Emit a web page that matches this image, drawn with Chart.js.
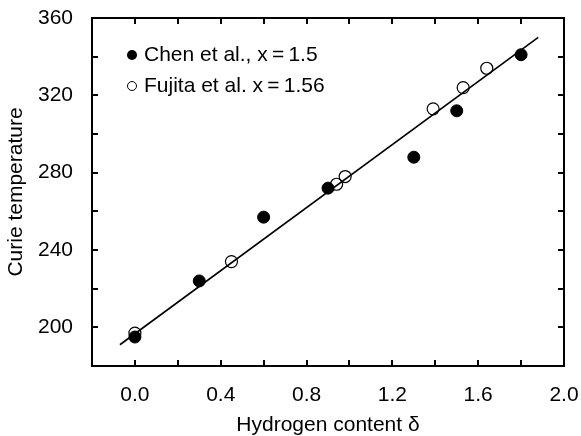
<!DOCTYPE html>
<html>
<head>
<meta charset="utf-8">
<script src="https://cdn.jsdelivr.net/npm/chart.js@4"></script>
<style>
  body { margin: 0; background: #fff; }
</style>
</head>
<body>
<canvas id="curie" width="581" height="436"></canvas>
<script>
// Chen et al., x = 1.5 (filled)
const chenDelta = [0.0, 0.3, 0.6, 0.9, 1.3, 1.5, 1.8];
const chenTc = [195, 224, 257, 272, 288, 312, 341];
// Fujita et al. x = 1.56 (open)
const fujitaDelta = [0.0, 0.45, 0.94, 0.98, 1.39, 1.53, 1.64];
const fujitaTc = [197, 234, 274, 278, 313, 324, 334];
// linear fit line ends
const fitDelta = [-0.07, 1.88];
const fitTc = [191, 350];

const legendLabels = ['Chen et al., x\u2009=\u20091.5', 'Fujita et al. x\u2009=\u20091.56'];

const FONT = "'Liberation Sans', Arial, Helvetica, sans-serif";
const FSIZE = 21;

function toPoints(xs, ys) {
  return xs.map(function(x, i) { return { x: x, y: ys[i] }; });
}

function isMultiple(v, step) {
  const r = v / step;
  return Math.abs(r - Math.round(r)) < 1e-6;
}

// frame, inward ticks on all four sides, legend in top-left
const framePlugin = {
  id: 'frame',
  afterDraw(chart) {
    const ctx = chart.ctx;
    const a = chart.chartArea;
    const xs = chart.scales.x, ys = chart.scales.y;
    const len = 6;
    ctx.save();
    ctx.strokeStyle = '#000';
    ctx.lineWidth = 2;
    ctx.beginPath();
    xs.ticks.forEach(function(t) {
      const px = Math.round(xs.getPixelForValue(t.value));
      ctx.moveTo(px, a.bottom); ctx.lineTo(px, a.bottom - len);
      ctx.moveTo(px, a.top); ctx.lineTo(px, a.top + len);
    });
    ys.ticks.forEach(function(t) {
      const py = Math.round(ys.getPixelForValue(t.value));
      ctx.moveTo(a.left, py); ctx.lineTo(a.left + len, py);
      ctx.moveTo(a.right, py); ctx.lineTo(a.right - len, py);
    });
    ctx.stroke();
    ctx.strokeRect(a.left, a.top, a.right - a.left, a.bottom - a.top);

    // legend
    ctx.font = FSIZE + 'px ' + FONT;
    ctx.textBaseline = 'middle';
    ctx.fillStyle = '#000';
    const lx = a.left + 40, ly = a.top + 37, gap = 31;
    ctx.beginPath();
    ctx.arc(lx, ly, 5, 0, Math.PI * 2);
    ctx.fill();
    ctx.fillText(legendLabels[0], lx + 12, ly);
    ctx.beginPath();
    ctx.lineWidth = 1;
    ctx.arc(lx, ly + gap, 4.5, 0, Math.PI * 2);
    ctx.stroke();
    ctx.fillText(legendLabels[1], lx + 12, ly + gap);
    ctx.restore();
  }
};

new Chart(document.getElementById('curie'), {
  type: 'scatter',
  data: {
    datasets: [{
      label: 'fit',
      type: 'line',
      data: toPoints(fitDelta, fitTc),
      borderColor: '#000',
      borderWidth: 1.6,
      pointRadius: 0,
      fill: false,
      order: 0
    }, {
      label: legendLabels[0],
      data: toPoints(chenDelta, chenTc),
      pointRadius: 6,
      pointBackgroundColor: '#000',
      pointBorderColor: '#000',
      pointBorderWidth: 1,
      order: 2
    }, {
      label: legendLabels[1],
      data: toPoints(fujitaDelta, fujitaTc),
      pointRadius: 6,
      pointBackgroundColor: 'rgba(255,255,255,0)',
      pointBorderColor: '#000',
      pointBorderWidth: 1.2,
      order: 1
    }]
  },
  options: {
    responsive: false,
    animation: false,
    layout: { padding: { left: 0, top: 18, right: 17, bottom: 0 } },
    plugins: {
      legend: { display: false },
      tooltip: { enabled: false }
    },
    scales: {
      x: {
        type: 'linear',
        min: -0.2,
        max: 2.0,
        grid: { display: false, drawTicks: false },
        border: { display: false },
        ticks: {
          stepSize: 0.2,
          padding: 17,
          color: '#000',
          font: { family: FONT, size: FSIZE },
          maxRotation: 0,
          autoSkip: false,
          callback: function(v) {
            return (v >= -1e-9 && isMultiple(v, 0.4)) ? Math.abs(v).toFixed(1) : '';
          }
        },
        title: {
          display: true,
          text: 'Hydrogen content \u03b4',
          color: '#000',
          font: { family: FONT, size: FSIZE },
          padding: { top: 0, bottom: -2 }
        },
        afterFit: function(s) {
          s.height = 70;
          s.paddingLeft = 0;
          s.paddingRight = 0;
        }
      },
      y: {
        type: 'linear',
        min: 180,
        max: 360,
        grid: { display: false, drawTicks: false },
        border: { display: false },
        ticks: {
          stepSize: 20,
          padding: 19,
          color: '#000',
          font: { family: FONT, size: FSIZE },
          autoSkip: false,
          callback: function(v) {
            return (v > 180 && isMultiple(v, 40)) ? String(v) : '';
          }
        },
        title: {
          display: true,
          text: 'Curie temperature',
          color: '#000',
          font: { family: FONT, size: FSIZE },
          padding: { top: 4, bottom: 0 }
        },
        afterFit: function(s) {
          s.width = 92;
          s.paddingTop = 0;
          s.paddingBottom = 0;
        }
      }
    }
  },
  plugins: [framePlugin]
});
</script>
</body>
</html>
